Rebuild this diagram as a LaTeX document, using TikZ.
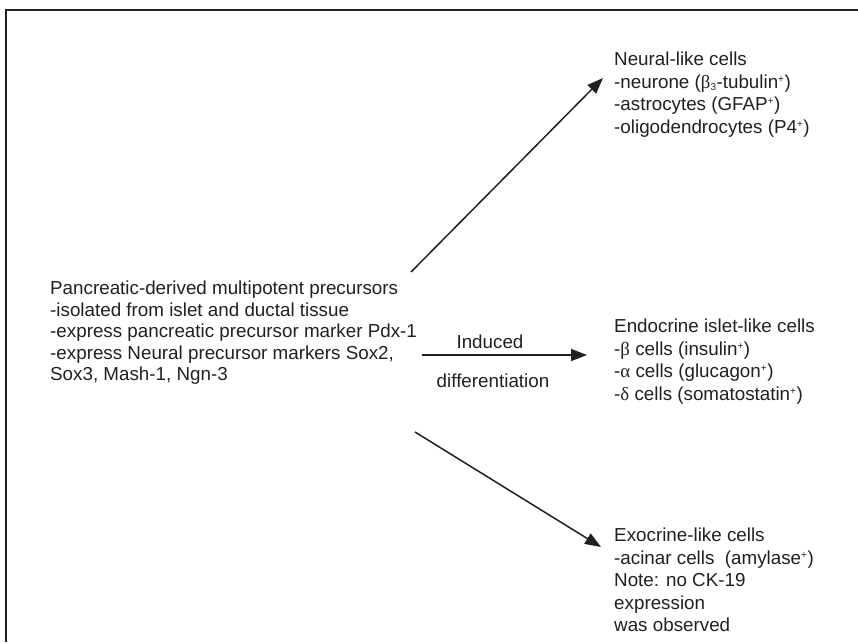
\documentclass[tikz,border=0pt]{standalone}
\usepackage{fontspec}
\setmainfont{Liberation Sans}
\newfontfamily\grk{Liberation Serif}
\usetikzlibrary{arrows.meta}
\definecolor{ink}{HTML}{231F20}
\newcommand{\pos}{\textsuperscript{\fontsize{10}{10}\selectfont +}}
\newcommand{\sbt}{\textsubscript{\fontsize{10}{10}\selectfont 3}}
\tikzset{
  block/.style={anchor=north west, align=left, inner sep=0pt, text=ink,
    font=\fontsize{18.8}{22.5}\selectfont},
  flow/.style={draw=ink, line width=1.5pt, -{Triangle[length=16pt,width=12pt]}},
  lbl/.style={inner sep=0pt, text=ink, font=\fontsize{18.8}{22.5}\selectfont}
}
\begin{document}
\begin{tikzpicture}[x=1pt,y=-1pt]
  \useasboundingbox (0,0) rectangle (858,642);

  % frame
  \draw[ink, line width=2pt] (6,642) -- (6,10) -- (858,10);

  \node[block, font=\fontsize{18.8}{21.5}\selectfont] (src) at (50,281)
    {Pancreatic-derived multipotent precursors\\
     -isolated from islet and ductal tissue\\
     -express pancreatic precursor marker Pdx-1\\
     -express Neural precursor markers Sox2,\\
     Sox3, Mash-1, Ngn-3};

  \node[block] (neural) at (614,52)
    {Neural-like cells\\
     -neurone ({\grk β}\sbt-tubulin\pos)\\
     -astrocytes (GFAP\pos)\\
     -oligodendrocytes (P4\pos)};

  \node[block] (endo) at (614,319)
    {Endocrine islet-like cells\\
     -{\grk β} cells (insulin\pos)\\
     -{\grk α} cells (glucagon\pos)\\
     -{\grk δ} cells (somatostatin\pos)};

  \node[block] (exo) at (614,528)
    {Exocrine-like cells\\
     -acinar cells~~(amylase\pos)\\
     Note: no CK-19\\
     expression\\
     was observed};

  \node[lbl] (ind) at (490,342) {Induced};
  \node[lbl] (diff) at (493,381) {differentiation};

  % arrows
  \coordinate (upS) at (411,272);
  \coordinate (upE) at (603,78);
  \coordinate (midS) at (422,355);
  \coordinate (midE) at (587,355);
  \coordinate (dnS) at (415,432);
  \coordinate (dnE) at (601,547);

  \draw[flow] (upS) -- (upE);
  \draw[flow] (midS) -- (midE);
  \draw[flow] (dnS) -- (dnE);
\end{tikzpicture}
\end{document}
